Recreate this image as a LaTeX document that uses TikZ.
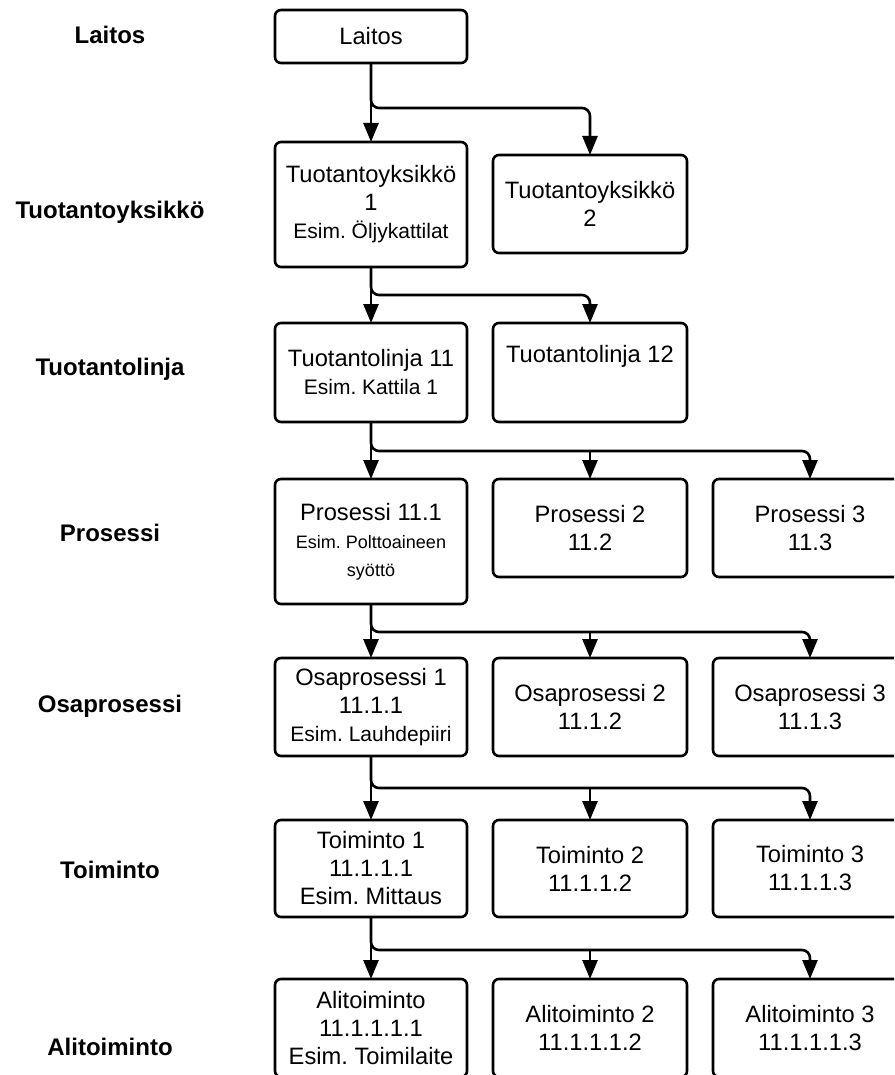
\documentclass[tikz,border=0pt]{standalone}
\usepackage{fontspec}
\setmainfont{Liberation Sans}
\usetikzlibrary{arrows.meta}
\frenchspacing
% smaller example lines inside the boxes
\newcommand\esimtext[1]{{\fontsize{21}{28}\selectfont #1}}
\newcommand\esimsmall[1]{{\fontsize{18}{26}\selectfont #1}}
\begin{document}
\begin{tikzpicture}[x=1pt,y=-1pt,
  box/.style={draw, line width=2.6pt, rounded corners=6pt, inner sep=0pt, outer sep=0pt,
              minimum width=192pt, align=center, anchor=north,
              font=\fontsize{23.7}{28}\selectfont},
  wbox/.style={box, minimum width=194pt},
  lvl/.style={font=\bfseries\fontsize{24}{28}\selectfont},
  arr/.style={line width=2.6pt, rounded corners=8pt, -{Triangle[length=19pt,width=15pt]}}]
\useasboundingbox (0,0) rectangle (894,1075);
\clip (0,0) rectangle (894,1075);

% level names on the left
\node[lvl] (nL)  at (110,35)   {Laitos};
\node[lvl] (nT)  at (110,212)  {Tuotantoyksikkö};
\node[lvl] (nTL) at (110,369)  {Tuotantolinja};
\node[lvl] (nP)  at (110,533)  {Prosessi};
\node[lvl] (nO)  at (110,706)  {Osaprosessi};
\node[lvl] (nTo) at (110,870)  {Toiminto};
\node[lvl] (nA)  at (110,1047) {Alitoiminto};

% hierarchy boxes
\node[box, minimum height=53pt]  (L)   at (371,10)  {Laitos};
\node[box, minimum height=125pt] (T1)  at (371,142) {Tuotantoyksikkö\\1\\\esimtext{Esim. Öljykattilat}};
\node[wbox, minimum height=98pt] (T2)  at (590,155) {Tuotantoyksikkö\\2};
\node[box, minimum height=99pt]  (TL1) at (371,323) {Tuotantolinja 11\\\esimtext{Esim. Kattila 1}};
\node[wbox, minimum height=99pt] (TL2) at (590,323) {Tuotantolinja 12\\\strut};
\node[box, minimum height=125pt] (P1)  at (371,479) {Prosessi 11.1\\\esimsmall{Esim. Polttoaineen}\\\esimsmall{syöttö}};
\node[wbox, minimum height=98pt] (P2)  at (590,479) {Prosessi 2\\11.2};
\node[wbox, minimum height=98pt] (P3)  at (810,479) {Prosessi 3\\11.3};
\node[box, minimum height=98pt]  (O1)  at (371,658) {Osaprosessi 1\\11.1.1\\\esimtext{Esim. Lauhdepiiri}};
\node[wbox, minimum height=98pt] (O2)  at (590,658) {Osaprosessi 2\\11.1.2};
\node[wbox, minimum height=98pt] (O3)  at (810,658) {Osaprosessi 3\\11.1.3};
\node[box, minimum height=97pt]  (To1) at (371,820) {Toiminto 1\\11.1.1.1\\Esim. Mittaus};
\node[wbox, minimum height=97pt] (To2) at (590,820) {Toiminto 2\\11.1.1.2};
\node[wbox, minimum height=97pt] (To3) at (810,820) {Toiminto 3\\11.1.1.3};
\node[box, minimum height=98pt]  (A1)  at (371,979) {Alitoiminto\\11.1.1.1.1\\Esim. Toimilaite};
\node[wbox, minimum height=98pt] (A2)  at (590,979) {Alitoiminto 2\\11.1.1.1.2};
\node[wbox, minimum height=98pt] (A3)  at (810,979) {Alitoiminto 3\\11.1.1.1.3};

% branch points on the horizontal runs
\coordinate (bT2)  at (590,108);
\coordinate (bTL2) at (590,295);
\coordinate (bP2)  at (590,451);
\coordinate (bP3)  at (810,451);
\coordinate (bO2)  at (590,632);
\coordinate (bO3)  at (810,632);
\coordinate (bTo2) at (590,788);
\coordinate (bTo3) at (810,788);
\coordinate (bA2)  at (590,950);
\coordinate (bA3)  at (810,950);

% connectors
\draw[arr] (L.south) -- (T1.north);
\draw[arr] (L.south) |- (bT2) -- (T2.north);

\draw[arr] (T1.south) -- (TL1.north);
\draw[arr] (T1.south) |- (bTL2) -- (TL2.north);

\draw[arr] (TL1.south) -- (P1.north);
\draw[arr] (TL1.south) |- (bP3) -- (P3.north);
\draw[arr] (bP2) -- (P2.north);

\draw[arr] (P1.south) -- (O1.north);
\draw[arr] (P1.south) |- (bO3) -- (O3.north);
\draw[arr] (bO2) -- (O2.north);

\draw[arr] (O1.south) -- (To1.north);
\draw[arr] (O1.south) |- (bTo3) -- (To3.north);
\draw[arr] (bTo2) -- (To2.north);

\draw[arr] (To1.south) -- (A1.north);
\draw[arr] (To1.south) |- (bA3) -- (A3.north);
\draw[arr] (bA2) -- (A2.north);
\end{tikzpicture}
\end{document}
